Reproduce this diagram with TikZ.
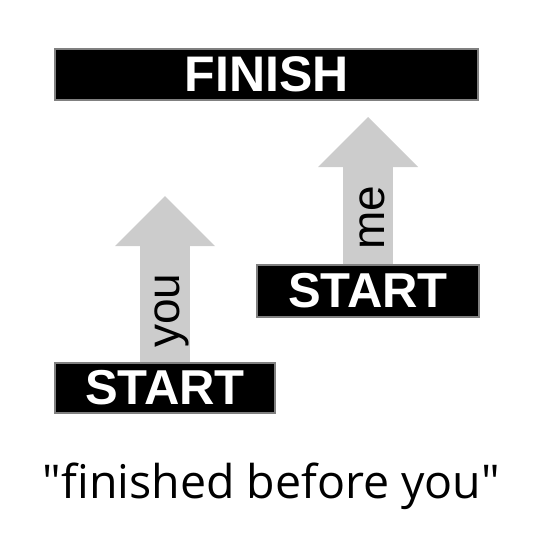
\documentclass[tikz,border=0pt]{standalone}
\usepackage{fontspec}
\setmainfont{Liberation Sans}
\newfontfamily\captionfont[Ligatures=NoCommon]{Open Sans}
\usetikzlibrary{arrows.meta}

\begin{document}
\begin{tikzpicture}[x=1pt, y=-1pt,
    bar/.style={fill=black, draw=gray, line width=1.5pt, text=white, inner sep=0pt,
      font=\fontsize{49}{49}\selectfont\bfseries},
    uparrow/.style={draw=black!20, line width=50pt,
      -{Triangle[length=50pt, width=100pt, line width=0pt]}},
    who/.style={rotate=90, inner sep=0pt, font=\fontsize{46}{46}\selectfont}]

  \useasboundingbox (0,0) rectangle (533,533);

  % Goal
  \node[bar, minimum width=423pt, minimum height=51pt, font=\fontsize{50}{50}\selectfont\bfseries]
    (finish) at (266.5,74.5) {FINISH};

  % Starting lines
  \node[bar, minimum width=220pt, minimum height=50pt] (startyou) at (165,388) {START};
  \node[bar, minimum width=222pt, minimum height=52pt] (startme) at (368,291) {START};

  % Arrows
  \coordinate (tipyou) at (165,196);
  \coordinate (tipme) at (368,117);
  \draw[uparrow] (startyou.north) -- (tipyou);
  \draw[uparrow] (startme.north) -- (tipme);

  % Runner labels
  \node[who] (you) at (172,310.5) {you};
  \node[who] (me) at (372.5,218) {me};

  \node[font=\captionfont\fontsize{46.5}{46.5}\selectfont] (quote) at (271.5,486) {"finished before you"};

\end{tikzpicture}
\end{document}
